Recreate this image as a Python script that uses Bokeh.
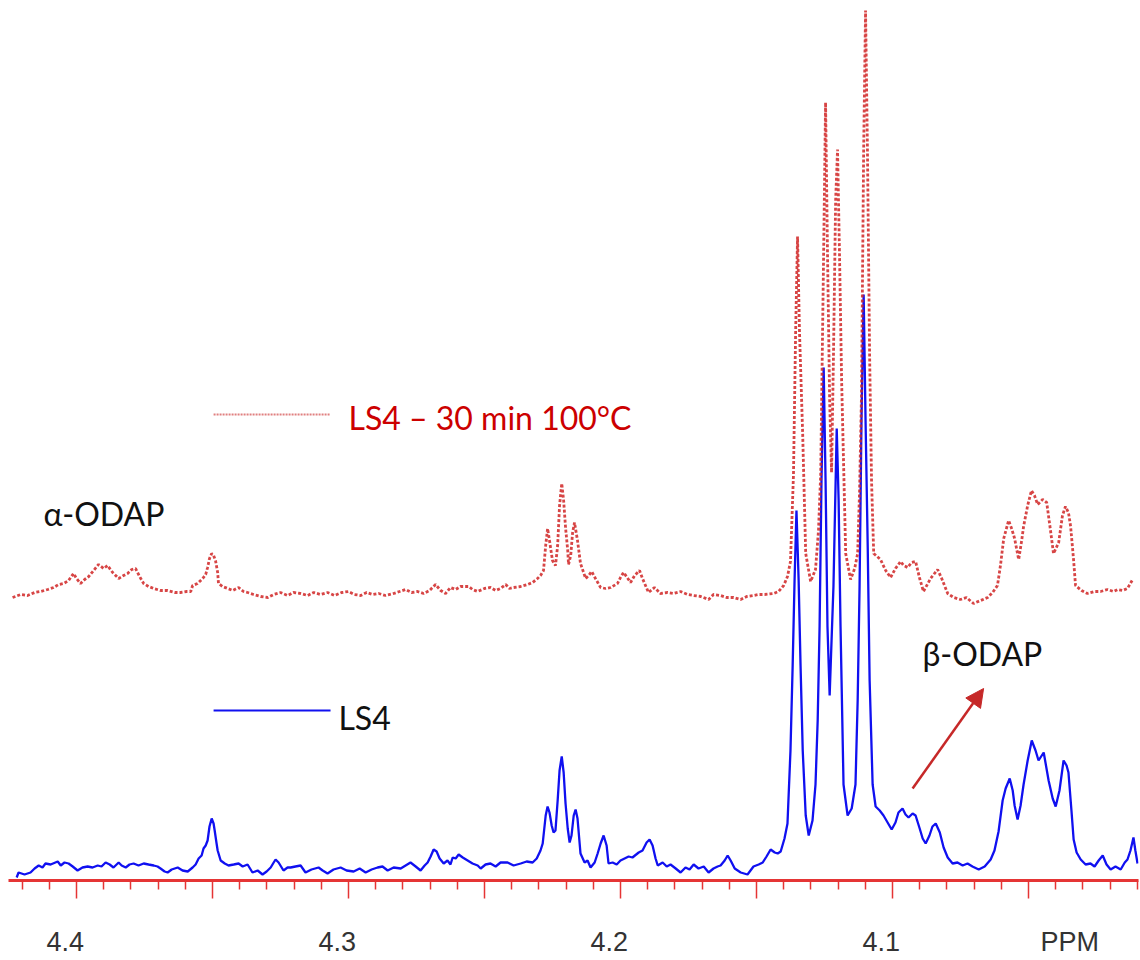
from bokeh.plotting import figure
from bokeh.models import Range1d, FixedTicker, Label, Arrow, NormalHead
from bokeh.embed import file_html
from bokeh.resources import INLINE

# ---------------- data (chemical shift in ppm, intensity in arbitrary units) -------------
red_ppm = [4.4235, 4.4205, 4.4180, 4.4154, 4.4132, 4.4106, 4.4084, 4.4066, 4.4047, 4.4029,
           4.4011, 4.4000, 4.3985, 4.3970, 4.3955, 4.3937, 4.3919, 4.3900, 4.3886, 4.3867,
           4.3845, 4.3827, 4.3812, 4.3797, 4.3783, 4.3768, 4.3753, 4.3735, 4.3716, 4.3691,
           4.3665, 4.3639, 4.3617, 4.3595, 4.3580, 4.3573, 4.3555, 4.3536, 4.3525, 4.3518,
           4.3511, 4.3503, 4.3496, 4.3489, 4.3481, 4.3478, 4.3463, 4.3444, 4.3426, 4.3404,
           4.3386, 4.3371, 4.3349, 4.3323, 4.3297, 4.3275, 4.3250, 4.3224, 4.3202, 4.3176,
           4.3150, 4.3128, 4.3103, 4.3077, 4.3051, 4.3025, 4.3000, 4.2978, 4.2955, 4.2933,
           4.2911, 4.2889, 4.2864, 4.2834, 4.2812, 4.2790, 4.2768, 4.2746, 4.2724, 4.2702,
           4.2680, 4.2661, 4.2643, 4.2625, 4.2606, 4.2588, 4.2558, 4.2544, 4.2525, 4.2500,
           4.2478, 4.2459, 4.2441, 4.2422, 4.2408, 4.2393, 4.2367, 4.2341, 4.2323, 4.2305,
           4.2294, 4.2283, 4.2275, 4.2268, 4.2261, 4.2250, 4.2239, 4.2231, 4.2224, 4.2216,
           4.2209, 4.2202, 4.2194, 4.2191, 4.2183, 4.2176, 4.2169, 4.2158, 4.2147, 4.2128,
           4.2117, 4.2106, 4.2092, 4.2073, 4.2055, 4.2036, 4.2011, 4.2000, 4.1989, 4.1978,
           4.1963, 4.1948, 4.1930, 4.1919, 4.1897, 4.1875, 4.1853, 4.1827, 4.1805, 4.1779,
           4.1753, 4.1731, 4.1705, 4.1676, 4.1658, 4.1632, 4.1610, 4.1584, 4.1558, 4.1536,
           4.1511, 4.1492, 4.1470, 4.1437, 4.1419, 4.1400, 4.1386, 4.1375, 4.1364, 4.1356,
           4.1349, 4.1342, 4.1330, 4.1319, 4.1301, 4.1283, 4.1272, 4.1264, 4.1253, 4.1246,
           4.1239, 4.1231, 4.1224, 4.1217, 4.1209, 4.1202, 4.1195, 4.1187, 4.1172, 4.1154,
           4.1139, 4.1128, 4.1121, 4.1114, 4.1106, 4.1099, 4.1092, 4.1084, 4.1077, 4.1069,
           4.1044, 4.1025, 4.1007, 4.0989, 4.0970, 4.0959, 4.0944, 4.0930, 4.0915, 4.0900,
           4.0886, 4.0860, 4.0834, 4.0819, 4.0797, 4.0775, 4.0750, 4.0728, 4.0702, 4.0676,
           4.0650, 4.0632, 4.0614, 4.0603, 4.0591, 4.0573, 4.0562, 4.0551, 4.0536, 4.0525,
           4.0518, 4.0503, 4.0489, 4.0478, 4.0466, 4.0448, 4.0433, 4.0419, 4.0408, 4.0389,
           4.0375, 4.0364, 4.0353, 4.0345, 4.0334, 4.0327, 4.0305, 4.0283, 4.0257, 4.0235,
           4.0209, 4.0187, 4.0172, 4.0154, 4.0136, 4.0117]
red_int = [0, 3, 2, 5, 6, 8, 10, 13, 14, 17,
           24, 19, 14, 18, 21, 27, 33, 29, 32, 25,
           19, 22, 24, 28, 29, 21, 14, 11, 9, 7,
           7, 5, 5, 6, 6, 12, 14, 19, 23, 30,
           39, 44, 42, 37, 25, 14, 11, 9, 7, 10,
           6, 5, 3, 1, 0, 3, 5, 2, 5, 4,
           2, 5, 3, 5, 2, 5, 6, 3, 2, 5,
           3, 4, 2, 4, 6, 8, 5, 6, 4, 7,
           13, 7, 4, 10, 8, 11, 11, 8, 6, 9,
           10, 7, 9, 13, 9, 10, 11, 13, 15, 19,
           22, 27, 52, 69, 57, 37, 32, 52, 92, 114,
           97, 70, 47, 33, 42, 65, 75, 57, 34, 19,
           22, 26, 19, 10, 9, 10, 14, 20, 25, 21,
           15, 22, 27, 19, 5, 10, 4, 5, 4, 6,
           3, 2, 1, -2, 3, 2, 0, 0, -2, 1,
           2, 3, 3, 4, 6, 12, 21, 36, 123, 267,
           361, 267, 162, 44, 16, 28, 67, 123, 347, 495,
           347, 197, 125, 241, 397, 448, 347, 217, 44, 18,
           29, 44, 107, 202, 447, 587, 447, 241, 117, 44,
           38, 27, 20, 29, 36, 32, 30, 35, 36, 19,
           6, 19, 28, 19, 4, 0, -2, 0, -6, -3,
           0, 5, 12, 32, 59, 77, 69, 59, 38, 57,
           71, 92, 107, 102, 93, 98, 95, 67, 44, 55,
           82, 91, 85, 71, 37, 12, 7, 4, 6, 6,
           8, 6, 8, 7, 9, 18]

blue_ppm = [4.4220, 4.4213, 4.4191, 4.4169, 4.4154, 4.4139, 4.4125, 4.4114, 4.4095, 4.4069,
            4.4058, 4.4044, 4.4029, 4.4014, 4.3996, 4.3978, 4.3959, 4.3941, 4.3922, 4.3908,
            4.3893, 4.3878, 4.3864, 4.3845, 4.3834, 4.3819, 4.3805, 4.3790, 4.3772, 4.3753,
            4.3735, 4.3716, 4.3702, 4.3691, 4.3676, 4.3665, 4.3650, 4.3628, 4.3610, 4.3591,
            4.3573, 4.3562, 4.3551, 4.3540, 4.3533, 4.3525, 4.3518, 4.3511, 4.3503, 4.3496,
            4.3492, 4.3485, 4.3481, 4.3470, 4.3455, 4.3441, 4.3422, 4.3404, 4.3389, 4.3371,
            4.3353, 4.3334, 4.3316, 4.3301, 4.3286, 4.3275, 4.3268, 4.3257, 4.3239, 4.3224,
            4.3213, 4.3195, 4.3176, 4.3158, 4.3136, 4.3110, 4.3095, 4.3077, 4.3055, 4.3029,
            4.3007, 4.2981, 4.2959, 4.2937, 4.2915, 4.2893, 4.2875, 4.2856, 4.2834, 4.2808,
            4.2790, 4.2772, 4.2753, 4.2735, 4.2720, 4.2709, 4.2698, 4.2687, 4.2676, 4.2665,
            4.2650, 4.2636, 4.2625, 4.2617, 4.2606, 4.2595, 4.2580, 4.2562, 4.2544, 4.2525,
            4.2514, 4.2496, 4.2478, 4.2459, 4.2441, 4.2415, 4.2393, 4.2367, 4.2345, 4.2323,
            4.2308, 4.2294, 4.2286, 4.2275, 4.2268, 4.2261, 4.2253, 4.2246, 4.2239, 4.2231,
            4.2224, 4.2216, 4.2209, 4.2202, 4.2194, 4.2187, 4.2180, 4.2172, 4.2165, 4.2158,
            4.2147, 4.2132, 4.2121, 4.2110, 4.2095, 4.2084, 4.2073, 4.2062, 4.2051, 4.2044,
            4.2029, 4.2014, 4.2000, 4.1985, 4.1970, 4.1956, 4.1933, 4.1919, 4.1904, 4.1893,
            4.1882, 4.1871, 4.1863, 4.1845, 4.1830, 4.1816, 4.1797, 4.1779, 4.1761, 4.1746,
            4.1731, 4.1713, 4.1694, 4.1676, 4.1658, 4.1643, 4.1632, 4.1617, 4.1606, 4.1595,
            4.1580, 4.1558, 4.1533, 4.1511, 4.1492, 4.1477, 4.1463, 4.1448, 4.1433, 4.1422,
            4.1411, 4.1397, 4.1386, 4.1375, 4.1367, 4.1360, 4.1353, 4.1345, 4.1338, 4.1330,
            4.1319, 4.1308, 4.1294, 4.1283, 4.1275, 4.1268, 4.1261, 4.1253, 4.1246, 4.1239,
            4.1231, 4.1224, 4.1217, 4.1205, 4.1198, 4.1191, 4.1180, 4.1165, 4.1150, 4.1136,
            4.1128, 4.1121, 4.1114, 4.1106, 4.1099, 4.1091, 4.1084, 4.1073, 4.1062, 4.1047,
            4.1033, 4.1018, 4.1003, 4.0989, 4.0978, 4.0963, 4.0952, 4.0941, 4.0926, 4.0915,
            4.0900, 4.0889, 4.0878, 4.0864, 4.0853, 4.0841, 4.0826, 4.0812, 4.0797, 4.0779,
            4.0761, 4.0742, 4.0724, 4.0706, 4.0683, 4.0661, 4.0639, 4.0625, 4.0610, 4.0595,
            4.0584, 4.0569, 4.0558, 4.0551, 4.0540, 4.0529, 4.0518, 4.0503, 4.0488, 4.0474,
            4.0463, 4.0444, 4.0426, 4.0411, 4.0400, 4.0386, 4.0371, 4.0360, 4.0353, 4.0342,
            4.0334, 4.0323, 4.0308, 4.0290, 4.0272, 4.0257, 4.0242, 4.0227, 4.0213, 4.0198,
            4.0180, 4.0161, 4.0146, 4.0136, 4.0125, 4.0114, 4.0107, 4.0099]
blue_int = [-7, -2, -4, -2, 2, 5, 3, 7, 6, 9,
            5, 8, 7, 4, 0, 3, 4, 3, 5, 4,
            8, 6, 3, 8, 5, 3, 6, 7, 5, 7,
            6, 5, 4, 2, -1, -2, 1, 3, 0, -1,
            3, 6, 12, 15, 22, 25, 30, 44, 52, 47,
            40, 27, 20, 10, 7, 5, 6, 7, 4, 6,
            -2, 0, -4, -1, 3, 8, 11, 8, 0, 3,
            3, 4, 5, -2, 1, 3, 0, -3, 1, 3,
            0, -1, 2, -2, 1, 3, 4, 0, 3, 2,
            5, 8, 4, 0, 5, 8, 14, 21, 19, 12,
            7, 10, 6, 13, 12, 16, 13, 10, 7, 5,
            2, 6, 7, 4, 8, 8, 5, 7, 9, 8,
            12, 20, 27, 55, 64, 58, 45, 38, 40, 70,
            100, 114, 98, 67, 42, 28, 35, 55, 61, 52,
            17, 8, 10, 3, 8, 17, 27, 35, 25, 7,
            8, 6, 10, 12, 14, 13, 18, 20, 28, 31,
            25, 12, 5, 8, 4, 6, 2, -2, 3, 1,
            6, 2, 4, -2, 2, 4, 5, 10, 15, 10,
            2, -2, -4, 4, 6, 8, 14, 21, 18, 17,
            19, 32, 47, 120, 205, 290, 360, 290, 205, 120,
            55, 35, 50, 86, 150, 244, 390, 503, 390, 244,
            175, 230, 284, 442, 370, 244, 86, 55, 62, 86,
            170, 284, 450, 576, 450, 323, 190, 86, 64, 60,
            55, 48, 41, 48, 58, 62, 56, 53, 57, 55,
            42, 32, 27, 35, 44, 47, 38, 23, 13, 7,
            8, 5, 7, 4, 1, 4, 11, 20, 39, 70,
            82, 92, 80, 65, 51, 65, 86, 110, 130, 120,
            110, 118, 90, 72, 64, 80, 110, 105, 98, 60,
            31, 18, 11, 6, 7, 4, 10, 15, 6, 1,
            4, 1, 8, 11, 20, 33, 20, 7]

tick_values = [4.4, 4.35, 4.3, 4.25, 4.2, 4.15, 4.1, 4.05]
tick_labels = ["4.4", "", "4.3", "", "4.2", "", "4.1", "PPM"]
minor_values = [4.42, 4.41, 4.39, 4.38, 4.37, 4.36, 4.34, 4.33, 4.32, 4.31,
                4.29, 4.28, 4.27, 4.26, 4.24, 4.23, 4.22, 4.21, 4.19, 4.18,
                4.17, 4.16, 4.14, 4.13, 4.12, 4.11, 4.09, 4.08, 4.07, 4.06,
                4.04, 4.03, 4.02, 4.01]

series_names = ["LS4 \u2013 30 min 100\u00b0C", "LS4"]
peak_labels = ["\u03b1-ODAP", "\u03b2-ODAP"]

# ---------------- styling / layout constants ----------------
RED_OFFSET = 283   # vertical stacking offset of the heated sample trace
BLUE_OFFSET = 10
RED = "#d02525"
BLUE = "#1010f0"
FONT = "Lato"
NB = "\u00a0"


def place(label):
    # numbers sit a little left of their tick, the unit a little right of its tick
    if label == "PPM":
        return NB * 11 + label
    if label == "":
        return label
    return label + NB * 3


p = figure(width=1140, height=960, output_backend="svg", toolbar_location=None,
           x_range=Range1d(4.4250, 4.00955), y_range=Range1d(0, 880),
           min_border_left=8, min_border_right=2, min_border_top=0, min_border_bottom=80)
p.outline_line_color = None
p.xgrid.visible = False
p.ygrid.visible = False
p.yaxis.visible = False
p.background_fill_color = "white"
p.border_fill_color = "white"

red_y = [v + RED_OFFSET for v in red_int]
blue_y = [v + BLUE_OFFSET for v in blue_int]

p.line(blue_ppm, blue_y, line_color=BLUE, line_width=2.3)
p.line(red_ppm, red_y, line_color=RED, line_width=2.8, line_dash="3 2", line_alpha=0.85)

# x axis
ax = p.xaxis[0]
ax.ticker = FixedTicker(ticks=tick_values, minor_ticks=minor_values)
ax.major_label_overrides = {t: place(l) for t, l in zip(tick_values, tick_labels)}
ax.axis_line_color = "#e53535"
ax.axis_line_width = 3
ax.major_tick_line_color = "#e53535"
ax.minor_tick_line_color = "#e53535"
ax.major_tick_line_width = 1.5
ax.minor_tick_line_width = 1.5
ax.major_tick_out = 18
ax.major_tick_in = 0
ax.minor_tick_out = 9
ax.minor_tick_in = 0
ax.major_label_text_font = "Liberation Sans"
ax.major_label_text_font_size = "27px"
ax.major_label_text_color = "#333333"
ax.major_label_standoff = 28

# manual legend
p.segment(x0=[4.3496], y0=[466], x1=[4.3066], y1=[466], line_color="#e08080", line_width=2,
          line_dash="2 1")
p.add_layout(Label(x=4.3000, y=463, text=series_names[0], text_align="left", text_baseline="middle",
                   text_font=FONT, text_font_size="32px", text_color="#cc0000"))
p.segment(x0=[4.3496], y0=[170], x1=[4.3066], y1=[170], line_color=BLUE, line_width=2)
p.add_layout(Label(x=4.3037, y=163, text=series_names[1], text_align="left", text_baseline="middle",
                   text_font=FONT, text_font_size="32px", text_color="#111111"))

# peak annotations
p.add_layout(Label(x=4.4121, y=367, text=peak_labels[0], text_align="left", text_baseline="middle",
                   text_font=FONT, text_font_size="32px", text_color="#111111"))
p.add_layout(Label(x=4.0890, y=227, text=peak_labels[1], text_align="left", text_baseline="middle",
                   text_font=FONT, text_font_size="32px", text_color="#111111"))
p.add_layout(Arrow(end=NormalHead(size=18, fill_color="#c62828", line_color="#c62828"),
                   x_start=4.0926, y_start=92, x_end=4.0665, y_end=192,
                   line_color="#c62828", line_width=2.5))

open("out.html", "w").write(file_html(p, INLINE))
